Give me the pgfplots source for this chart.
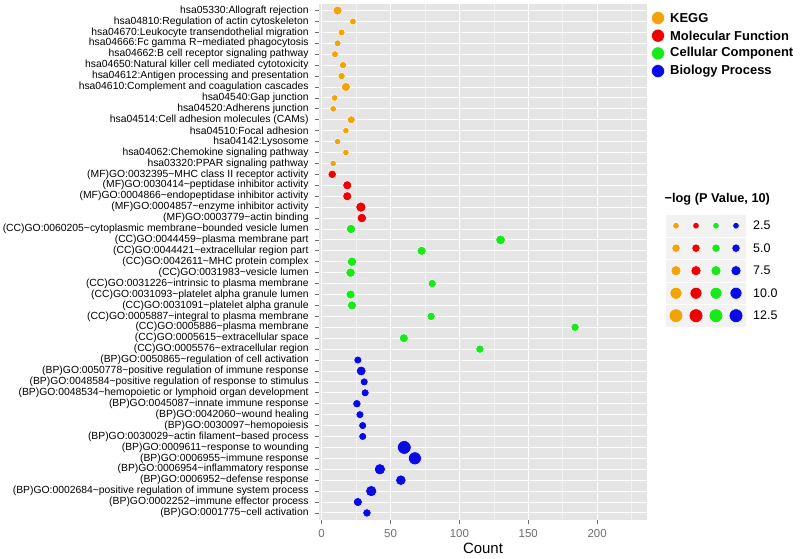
\documentclass[border=0pt]{standalone}
\usepackage{fontspec}
\setmainfont{Liberation Sans}
\usepackage{pgfplots}
\usepackage{pgfplotstable}
\pgfplotsset{compat=1.18}
\definecolor{panel}{RGB}{229,229,229}
\definecolor{minorg}{RGB}{242,242,242}
\definecolor{tile}{RGB}{242,242,242}
\definecolor{kegg}{RGB}{242,163,10}
\definecolor{mf}{RGB}{238,0,0}
\definecolor{cc}{RGB}{25,232,25}
\definecolor{bp}{RGB}{10,10,228}
\definecolor{tickgray}{RGB}{110,110,110}

% idx = row from bottom (1) to top (47); count; lp = -log10(P)
\pgfplotstableread{
idx count lp
47 11.6 6
46 22.7 3
45 14.5 3
44 11.6 3
43 9.7 3
42 15.5 3.5
41 14.5 3.5
40 17.6 6
39 9.4 2.5
38 8.4 2.5
37 21.5 4.5
36 17.6 2.5
35 11.6 2.5
34 17.6 2.5
33 8.4 2.5
}\keggtab
\pgfplotstableread{
idx count lp
32 7.7 5
31 18.6 6
30 18.6 6
29 28.5 7.5
28 29.2 6.5
}\mftab
\pgfplotstableread{
idx count lp
27 21.3 6.5
26 129.9 7
25 72.6 6
24 22 6.5
23 21 6.5
22 80.3 5
21 21 6
20 22 6
19 79.5 5
18 184 5
17 59.7 6
16 114.9 5
}\cctab
\pgfplotstableread{
idx count lp
15 26.3 4.5
14 28.7 7
13 30.9 4.5
12 31.6 4.5
11 25.6 5
10 27.8 4.5
9 29.8 4.5
8 29.8 4.5
7 60 12.5
6 67.7 11.5
5 42.3 9
4 57.5 8
3 36 9
2 26.3 6
1 32.9 5
}\bptab
\pgfplotstableread{
row lp
5 2.5
4 5.0
3 7.5
2 10.0
1 12.5
}\sizekey
\pgfplotstableread{
col row
1 1
1 2
1 3
1 4
1 5
2 1
2 2
2 3
2 4
2 5
3 1
3 2
3 3
3 4
3 5
4 1
4 2
4 3
4 4
4 5
}\tiles

\pgfplotsset{
  dot/.style={only marks, mark=*, scatter,
    scatter/use mapped color={draw=white, fill=#1},
    mark options={line width=0.5bp},
    visualization depends on={2.4+0.36*\thisrow{lp} \as \msz},
    scatter/@pre marker code/.append style={/tikz/mark size=\msz}},
}

\begin{document}
\begin{tikzpicture}
\begin{axis}[
  at={(0,0)}, anchor=south west,
  scale only axis, width=327.4bp, height=515.5bp,
  xmin=-1.7, xmax=236, ymin=0.4, ymax=47.6,
  axis background/.style={fill=panel},
  axis line style={draw=none},
  clip=false,
  xtick={0,50,100,150,200}, minor xtick={25,75,125,175,225},
  ytick={1,...,47},
  yticklabels={
{(BP)GO:0001775\textasciitilde cell activation},
{(BP)GO:0002252\textasciitilde immune effector process},
{(BP)GO:0002684\textasciitilde positive regulation of immune system process},
{(BP)GO:0006952\textasciitilde defense response},
{(BP)GO:0006954\textasciitilde inflammatory response},
{(BP)GO:0006955\textasciitilde immune response},
{(BP)GO:0009611\textasciitilde response to wounding},
{(BP)GO:0030029\textasciitilde actin filament−based process},
{(BP)GO:0030097\textasciitilde hemopoiesis},
{(BP)GO:0042060\textasciitilde wound healing},
{(BP)GO:0045087\textasciitilde innate immune response},
{(BP)GO:0048534\textasciitilde hemopoietic or lymphoid organ development},
{(BP)GO:0048584\textasciitilde positive regulation of response to stimulus},
{(BP)GO:0050778\textasciitilde positive regulation of immune response},
{(BP)GO:0050865\textasciitilde regulation of cell activation},
{(CC)GO:0005576\textasciitilde extracellular region},
{(CC)GO:0005615\textasciitilde extracellular space},
{(CC)GO:0005886\textasciitilde plasma membrane},
{(CC)GO:0005887\textasciitilde integral to plasma membrane},
{(CC)GO:0031091\textasciitilde platelet alpha granule},
{(CC)GO:0031093\textasciitilde platelet alpha granule lumen},
{(CC)GO:0031226\textasciitilde intrinsic to plasma membrane},
{(CC)GO:0031983\textasciitilde vesicle lumen},
{(CC)GO:0042611\textasciitilde MHC protein complex},
{(CC)GO:0044421\textasciitilde extracellular region part},
{(CC)GO:0044459\textasciitilde plasma membrane part},
{(CC)GO:0060205\textasciitilde cytoplasmic membrane−bounded vesicle lumen},
{(MF)GO:0003779\textasciitilde actin binding},
{(MF)GO:0004857\textasciitilde enzyme inhibitor activity},
{(MF)GO:0004866\textasciitilde endopeptidase inhibitor activity},
{(MF)GO:0030414\textasciitilde peptidase inhibitor activity},
{(MF)GO:0032395\textasciitilde MHC class II receptor activity},
{hsa03320:PPAR signaling pathway},
{hsa04062:Chemokine signaling pathway},
{hsa04142:Lysosome},
{hsa04510:Focal adhesion},
{hsa04514:Cell adhesion molecules (CAMs)},
{hsa04520:Adherens junction},
{hsa04540:Gap junction},
{hsa04610:Complement and coagulation cascades},
{hsa04612:Antigen processing and presentation},
{hsa04650:Natural killer cell mediated cytotoxicity},
{hsa04662:B cell receptor signaling pathway},
{hsa04666:Fc gamma R−mediated phagocytosis},
{hsa04670:Leukocyte transendothelial migration},
{hsa04810:Regulation of actin cytoskeleton},
{hsa05330:Allograft rejection}},
  grid=both,
  major grid style={white, line width=0.9bp},
  minor grid style={minorg, line width=0.5bp},
  tick align=outside, tick pos=left,
  major tick length=4bp, minor tick length=0bp,
  tick style={tickgray, line width=0.7bp},
  /pgf/number format/assume math mode=true,
  yticklabel style={font=\fontsize{10.4}{10}\selectfont, text=black, inner sep=0pt, xshift=-6.5bp},
  xticklabel style={font=\fontsize{11.5}{11}\selectfont, text=tickgray, inner sep=0pt, yshift=-6bp},
  xlabel={Count},
  xlabel style={font=\fontsize{15}{15}\selectfont, at={(axis description cs:0.5,0)}, anchor=center, yshift=-28.5bp},
]
\addplot[dot=kegg] table[x=count, y=idx] {\keggtab};
\addplot[dot=mf] table[x=count, y=idx] {\mftab};
\addplot[dot=cc] table[x=count, y=idx] {\cctab};
\addplot[dot=bp] table[x=count, y=idx] {\bptab};
\end{axis}

% colour legend
\begin{axis}[
  at={(332.2bp,439.55bp)}, anchor=south west,
  scale only axis, width=13bp, height=70.8bp,
  xmin=-1, xmax=1, ymin=0.5, ymax=4.5,
  clip=false, axis line style={draw=none},
  xtick=\empty, ytick={1,2,3,4},
  yticklabels={Biology Process, Cellular Component, Molecular Function, KEGG},
  yticklabel pos=right, major tick length=0bp, tick style={draw=none},
  yticklabel style={font=\fontsize{13}{13}\selectfont\bfseries, anchor=west, inner sep=0pt, xshift=5.5bp},
]
\addplot[only marks, mark=*, mark size=6.5bp, mark options={draw=white, fill=kegg}] coordinates {(0,4)};
\addplot[only marks, mark=*, mark size=6.5bp, mark options={draw=white, fill=mf}] coordinates {(0,3)};
\addplot[only marks, mark=*, mark size=6.5bp, mark options={draw=white, fill=cc}] coordinates {(0,2)};
\addplot[only marks, mark=*, mark size=6.5bp, mark options={draw=white, fill=bp}] coordinates {(0,1)};
\end{axis}

% size legend
\begin{axis}[
  at={(346.7bp,192.55bp)}, anchor=south west,
  scale only axis, width=80bp, height=112.5bp,
  xmin=0.5, xmax=4.5, ymin=0.5, ymax=5.5,
  clip=false, axis line style={draw=none},
  xtick=\empty, ytick={1,2,3,4,5},
  yticklabels={12.5,10.0,7.5,5.0,2.5},
  yticklabel pos=right, major tick length=0bp, tick style={draw=none},
  yticklabel style={font=\fontsize{12.5}{12.5}\selectfont, anchor=west, inner sep=0pt, xshift=7bp},
  title={−log (P Value, 10)},
  title style={font=\fontsize{12.8}{12.8}\selectfont\bfseries, at={(0,1)}, anchor=west, inner sep=0pt, xshift=-1.5bp, yshift=9.5bp},
]
\addplot[only marks, mark=square*, mark size=9.4bp, mark options={draw=tile, fill=tile, yscale=1.1}] table[x=col, y=row] {\tiles};
\addplot[dot=kegg] table[x expr=1, y=row] {\sizekey};
\addplot[dot=mf] table[x expr=2, y=row] {\sizekey};
\addplot[dot=cc] table[x expr=3, y=row] {\sizekey};
\addplot[dot=bp] table[x expr=4, y=row] {\sizekey};
\end{axis}

\pgfresetboundingbox
\path[use as bounding box] (-319.3bp,-39.5bp) rectangle (480.7bp,519.5bp);
\end{tikzpicture}
\end{document}
